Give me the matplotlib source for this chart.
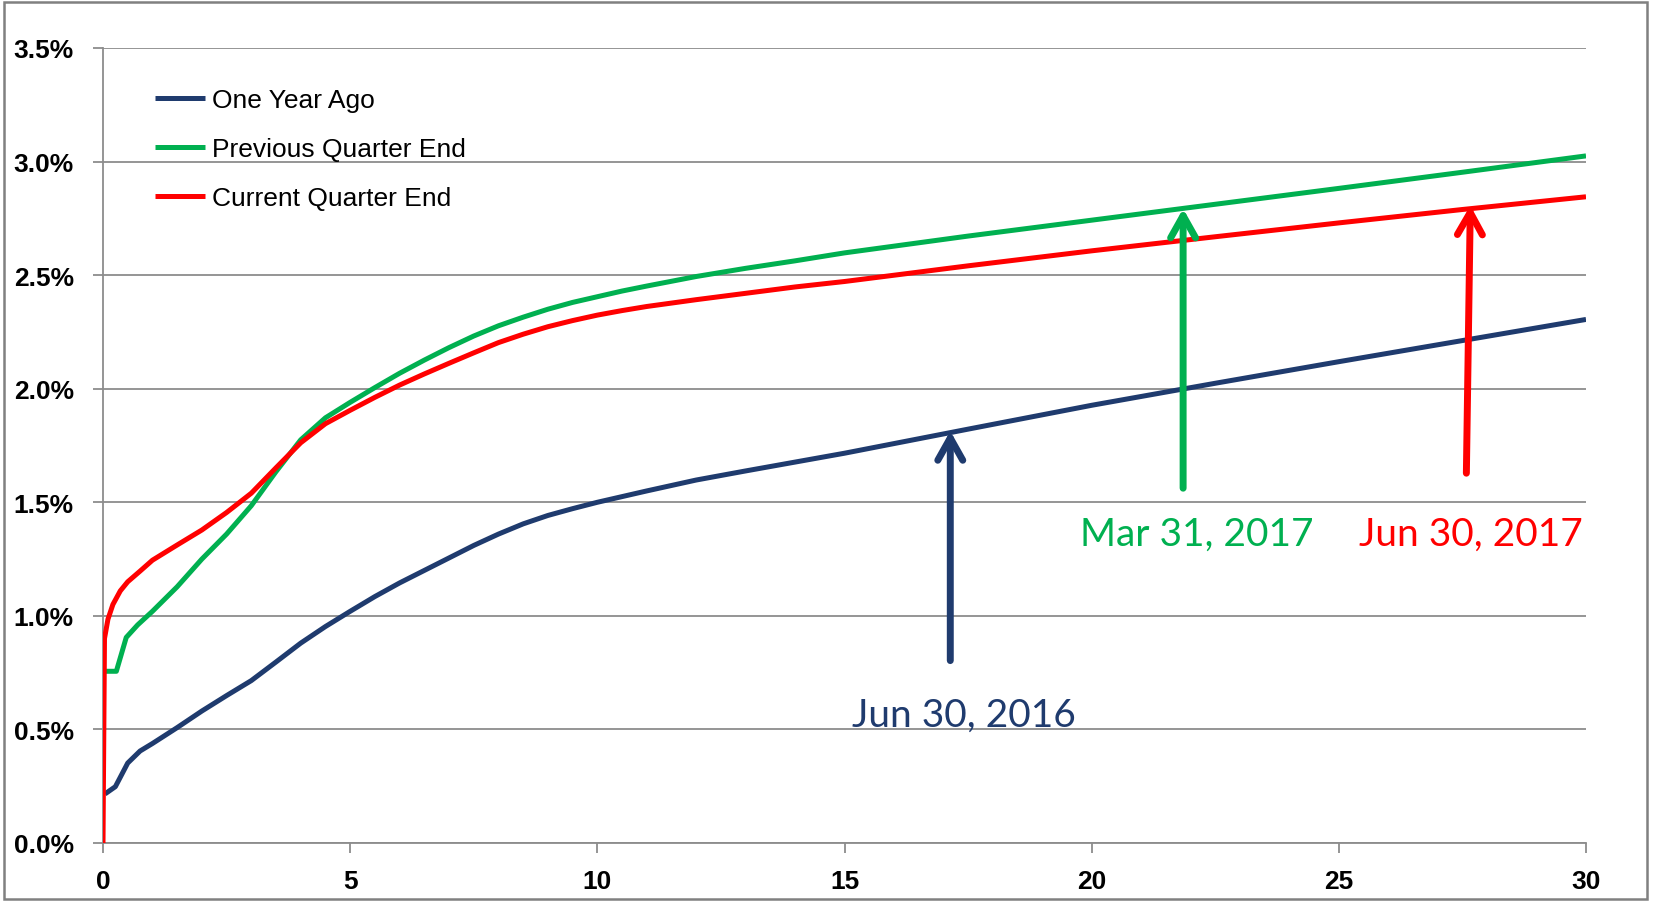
import matplotlib
matplotlib.use("Agg")
import matplotlib.pyplot as plt
from matplotlib.patches import Rectangle, ArrowStyle
from matplotlib.ticker import FuncFormatter, MultipleLocator

# ---- data (yield curves, % by maturity in years) ----
series_labels = ["One Year Ago", "Previous Quarter End", "Current Quarter End"]
series_colors = ["#1F3B6E", "#00B050", "#FF0000"]

maturities_year_ago = [0.04, 0.25, 0.5, 0.75, 1, 1.5, 2, 2.5, 3, 3.5, 4, 4.5, 5, 5.5, 6,
                       6.5, 7, 7.5, 8, 8.5, 9, 9.5, 10, 10.5, 11, 12, 13, 14, 15,
                       17.5, 20, 22.5, 25, 27.5, 30]
one_year_ago = [0.216, 0.248, 0.352, 0.405, 0.438, 0.508, 0.581, 0.649, 0.715, 0.797,
                0.88, 0.953, 1.02, 1.085, 1.145, 1.20, 1.255, 1.31, 1.36, 1.405,
                1.442, 1.472, 1.50, 1.525, 1.55, 1.598, 1.638, 1.677, 1.716,
                1.822, 1.927, 2.024, 2.119, 2.212, 2.305]

maturities_prev = [0.04, 0.27, 0.47, 0.7, 1, 1.5, 2, 2.5, 3, 3.5, 4, 4.5, 5, 5.5, 6,
                   6.5, 7, 7.5, 8, 8.5, 9, 9.5, 10, 10.5, 11, 12, 13, 14, 15,
                   17.5, 20, 22.5, 25, 27.5, 30]
prev_quarter = [0.756, 0.756, 0.905, 0.96, 1.02, 1.128, 1.25, 1.36, 1.485, 1.635,
                1.775, 1.872, 1.94, 2.005, 2.068, 2.126, 2.181, 2.232, 2.277, 2.315,
                2.35, 2.38, 2.405, 2.43, 2.452, 2.494, 2.53, 2.563, 2.598,
                2.672, 2.742, 2.812, 2.882, 2.953, 3.025]

maturities_current = [0.0, 0.03, 0.1, 0.2, 0.35, 0.5, 0.75, 1, 1.5, 2, 2.5, 3, 3.5, 4,
                      4.5, 5, 5.5, 6, 6.5, 7, 7.5, 8, 8.5, 9, 9.5, 10, 10.5, 11, 12,
                      13, 14, 15, 17.5, 20, 22.5, 25, 27.5, 30]
current_quarter = [0.0, 0.90, 0.985, 1.05, 1.11, 1.15, 1.197, 1.245, 1.312, 1.378,
                   1.455, 1.54, 1.652, 1.762, 1.846, 1.905, 1.962, 2.016, 2.065, 2.112,
                   2.158, 2.203, 2.24, 2.273, 2.30, 2.324, 2.344, 2.362, 2.392,
                   2.42, 2.448, 2.472, 2.541, 2.607, 2.669, 2.73, 2.789, 2.845]

annotation_texts = ["Jun 30, 2016", "Mar 31, 2017", "Jun 30, 2017"]
x_ticks = [0, 5, 10, 15, 20, 25, 30]

# ---- figure ----
W, H = 1653, 903
fig = plt.figure(figsize=(W / 100, H / 100), dpi=100)
fig.patch.set_facecolor("white")
fig.patches.append(Rectangle((4 / W, 3 / H), (1647 - 4) / W, (900 - 3) / H,
                             transform=fig.transFigure, fill=False,
                             edgecolor="#808080", linewidth=1.8, zorder=0))

ax = fig.add_axes([103 / W, 1 - 844 / H, (1586 - 103) / W, (844 - 49) / H])

line_kw = dict(lw=3.6, solid_capstyle="butt", solid_joinstyle="round")
ax.plot(maturities_year_ago, one_year_ago, color=series_colors[0],
        label=series_labels[0], zorder=3, **line_kw)
ax.plot(maturities_prev, prev_quarter, color=series_colors[1],
        label=series_labels[1], zorder=3, **line_kw)
ax.plot(maturities_current, current_quarter, color=series_colors[2],
        label=series_labels[2], zorder=4, **line_kw)

ax.set_xlim(0, 30)
ax.set_ylim(0, 3.5)
ax.set_xticks(x_ticks)
ax.yaxis.set_major_locator(MultipleLocator(0.5))
ax.yaxis.set_major_formatter(FuncFormatter(lambda v, p: f"{v:.1f}%"))

ax.grid(axis="y", color="#8C8C8C", lw=1.3, zorder=1)
ax.set_axisbelow(True)
for s in ["top", "right"]:
    ax.spines[s].set_visible(False)
for s in ["left", "bottom"]:
    ax.spines[s].set_color("#8C8C8C")
    ax.spines[s].set_linewidth(1.3)

ax.tick_params(axis="y", direction="out", length=7, width=1.3, color="#8C8C8C", pad=14)
ax.tick_params(axis="x", direction="out", length=7, width=1.3, color="#8C8C8C", pad=12)
for lab in ax.get_xticklabels() + ax.get_yticklabels():
    lab.set_fontfamily(["Liberation Sans", "DejaVu Sans"])
    lab.set_fontweight("bold")
    lab.set_fontsize(19)
    lab.set_color("black")

leg = ax.legend(loc="upper left", bbox_to_anchor=(155 / W, 1 - 89 / H),
                bbox_transform=fig.transFigure, frameon=False,
                prop={"family": ["Liberation Sans", "DejaVu Sans"], "size": 19},
                handlelength=1.9, handletextpad=0.27, labelspacing=0.95,
                borderpad=0, borderaxespad=0)
for line in leg.get_lines():
    line.set_linewidth(3.6)

# ---- arrows and labels ----
arrow_tips = [(17.14, 1.814), (21.85, 2.793), (27.66, 2.807)]
arrow_tails = [(17.14, 0.803), (21.85, 1.562), (27.58, 1.628)]
label_pos = [(17.41, 0.565), (22.13, 1.362), (27.68, 1.362)]
for tip, tail, pos, txt, col in zip(arrow_tips, arrow_tails, label_pos,
                                   annotation_texts, series_colors):
    ax.annotate("", xy=tip, xytext=tail,
                arrowprops=dict(arrowstyle=ArrowStyle("->", head_length=1.6, head_width=0.9),
                                mutation_scale=10, color=col, lw=5,
                                shrinkA=0, shrinkB=0, capstyle="round",
                                joinstyle="round"),
                zorder=5)
    ax.text(pos[0], pos[1], txt, color=col, fontsize=28,
            family=["Lato", "DejaVu Sans"], ha="center", va="center", zorder=5)

fig.savefig("out.png", dpi=100, facecolor="white")
